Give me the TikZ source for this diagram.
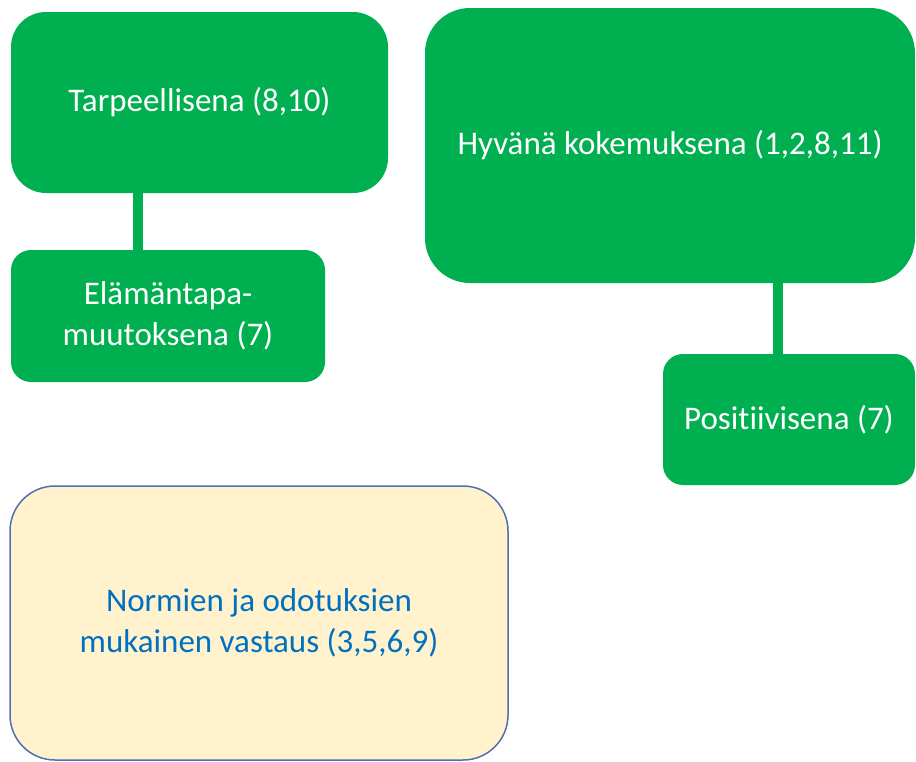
\documentclass[tikz,border=0pt]{standalone}
\usepackage{fontspec}
\setmainfont[Ligatures={NoCommon,NoDiscretionary}]{Carlito}
\definecolor{offgreen}{HTML}{00B050}
\definecolor{paleyellow}{HTML}{FFF2CC}
\definecolor{edgeblue}{HTML}{4F6FB0}
\definecolor{textblue}{HTML}{0070C0}
\begin{document}
\begin{tikzpicture}[x=1pt,y=1pt,
  greenbox/.style={rectangle, fill=offgreen, draw=none, text=white, align=center,
    inner sep=0pt, font=\fontsize{33}{41}\selectfont},
  yellowbox/.style={rectangle, fill=paleyellow, draw=edgeblue, line width=1.5pt, text=textblue,
    align=center, inner sep=0pt, rounded corners=45pt, font=\fontsize{33}{41}\selectfont},
  conn/.style={draw=offgreen, line width=10pt}]
\useasboundingbox (0,0) rectangle (916,-761);
\node[greenbox, rounded corners=35pt, minimum width=377pt, minimum height=181pt] (A) at (199.5,-102.5) {Tarpeellisena (8,10)};
\node[greenbox, rounded corners=20pt, minimum width=314pt, minimum height=132pt] (B) at (168,-316) {Elämäntapa-\\muutoksena (7)};
\node[greenbox, rounded corners=45pt, minimum width=490pt, minimum height=275pt] (C) at (670,-145.5) {Hyvänä kokemuksena (1,2,8,11)};
\node[greenbox, rounded corners=20pt, minimum width=252pt, minimum height=131pt] (D) at (789,-419.5) {Positiivisena (7)};
\node[yellowbox, minimum width=498pt, minimum height=274pt] (E) at (259,-623) {Normien ja odotuksien\\mukainen vastaus (3,5,6,9)};
\coordinate (k1) at (138,0);
\coordinate (k2) at (778,0);
\draw[conn] (A.south -| k1) -- (B.north -| k1);
\draw[conn] (C.south -| k2) -- (D.north -| k2);
\end{tikzpicture}
\end{document}
